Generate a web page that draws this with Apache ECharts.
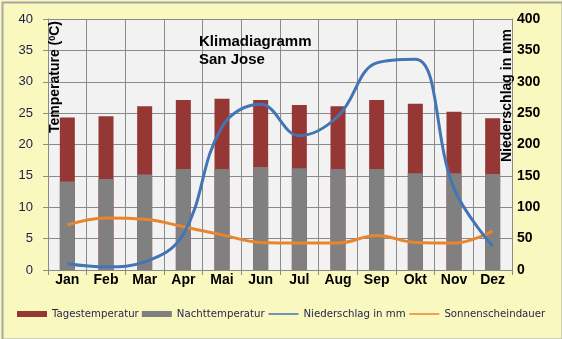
<!DOCTYPE html>
<html>
<head>
<meta charset="utf-8">
<script src="https://cdn.jsdelivr.net/npm/echarts@6/dist/echarts.min.js"></script>
<style>
html,body{margin:0;padding:0;background:#f9f8be;}
#chart{width:562px;height:339px;}
</style>
</head>
<body>
<div id="chart"></div>
<script>
const months = ['Jan','Feb','Mar','Apr','Mai','Jun','Jul','Aug','Sep','Okt','Nov','Dez'];
const tagestemperatur = [24.3, 24.5, 26.1, 27.1, 27.3, 27.1, 26.3, 26.1, 27.1, 26.5, 25.2, 24.2];
const nachttemperatur = [14.1, 14.5, 15.2, 16.1, 16.1, 16.4, 16.2, 16.1, 16.1, 15.4, 15.4, 15.3];
const niederschlag = [10, 5, 13, 57, 228, 264, 214, 245, 330, 336, 130, 38];
const sonnenscheindauer = [7.2, 8.3, 8.1, 6.9, 5.6, 4.4, 4.3, 4.3, 5.5, 4.4, 4.3, 6.2];
const leftTicks = {min: 0, max: 40, interval: 5};
const rightTicks = {min: 0, max: 400, interval: 50};

const chart = echarts.init(document.getElementById('chart'), null, {renderer: 'canvas'});
const gridColor = '#8a8a8a';
const hiddenSymbol = {color: 'rgba(0,0,0,0)', borderWidth: 0, opacity: 0};
chart.setOption({
  backgroundColor: '#f9f8be',
  animation: false,
  title: {
    text: 'Klimadiagramm\nSan Jose',
    left: 194, top: 28,
    textStyle: {fontFamily: 'Liberation Sans', fontWeight: 'bold', fontSize: 15, color: '#000', lineHeight: 18}
  },
  grid: {left: 48, right: 50, top: 19, bottom: 69, show: true, backgroundColor: '#f2f2f2', borderWidth: 0},
  legend: {
    left: 17, top: 309, padding: 0, width: 545, itemGap: 3, itemWidth: 30, itemHeight: 6,
    data: [
      {name: 'Tagestemperatur', icon: 'rect'},
      {name: 'Nachttemperatur', icon: 'rect'},
      {name: 'Niederschlag in mm', itemStyle: hiddenSymbol, lineStyle: {width: 1.5}},
      {name: 'Sonnenscheindauer', itemStyle: hiddenSymbol, lineStyle: {width: 1.5}}
    ],
    textStyle: {fontFamily: 'DejaVu Sans', fontSize: 10.2, color: '#26264e'}
  },
  xAxis: {
    type: 'category', data: months, boundaryGap: true,
    axisLine: {lineStyle: {color: gridColor}},
    axisTick: {show: true, length: 5, lineStyle: {color: gridColor}},
    splitLine: {show: true, lineStyle: {color: gridColor}},
    axisLabel: {fontFamily: 'Liberation Sans', fontWeight: 'bold', fontSize: 14, color: '#000', margin: 3}
  },
  yAxis: [
    {
      type: 'value', min: leftTicks.min, max: leftTicks.max, interval: leftTicks.interval,
      axisLine: {show: true, lineStyle: {color: gridColor}},
      axisTick: {show: true, length: 5, lineStyle: {color: gridColor}},
      splitLine: {show: true, lineStyle: {color: gridColor}},
      axisLabel: {fontFamily: 'Liberation Sans', fontSize: 13, color: '#1e1e46', margin: 15}
    },
    {
      type: 'value', min: rightTicks.min, max: rightTicks.max, interval: rightTicks.interval,
      axisLine: {show: true, lineStyle: {color: gridColor}},
      axisTick: {show: false},
      splitLine: {show: false},
      axisLabel: {fontFamily: 'Liberation Sans', fontWeight: 'bold', fontSize: 14, color: '#000', margin: 5}
    }
  ],
  graphic: [
    {type: 'rect', left: 0, top: 0, z: 100, silent: true,
     shape: {x: 0.5, y: 0.5, width: 560, height: 337},
     style: {fill: 'none', stroke: '#a6a6a6', lineWidth: 2}},
    {type: 'text', x: 48, y: 21, rotation: Math.PI / 2, z: 100,
     style: {text: 'Temperature ({s|0}C)', textAlign: 'right', textVerticalAlign: 'top',
             font: 'bold 14px "Liberation Sans"', fill: '#000',
             rich: {s: {fontFamily: 'Liberation Sans', fontWeight: 'bold', fontSize: 9, verticalAlign: 'top', fill: '#000'}}}},
    {type: 'text', x: 514, y: 29, rotation: Math.PI / 2, z: 100,
     style: {text: 'Niederschlag in mm', textAlign: 'right', textVerticalAlign: 'bottom',
             font: 'bold 14px "Liberation Sans"', fill: '#000'}}
  ],
  series: [
    {name: 'Tagestemperatur', type: 'bar', data: tagestemperatur, barWidth: 15,
     itemStyle: {color: '#953735'}, yAxisIndex: 0},
    {name: 'Nachttemperatur', type: 'bar', data: nachttemperatur, barWidth: 15, barGap: '-100%',
     itemStyle: {color: '#808080'}, yAxisIndex: 0},
    {name: 'Sonnenscheindauer', type: 'line', data: sonnenscheindauer, smooth: 0.4, symbol: 'none',
     lineStyle: {color: '#e8852e', width: 3}, itemStyle: {color: '#e8852e'}, yAxisIndex: 0},
    {name: 'Niederschlag in mm', type: 'line', data: niederschlag, smooth: 0.4, symbol: 'none',
     lineStyle: {color: '#4375b5', width: 3}, itemStyle: {color: '#4375b5'}, yAxisIndex: 1}
  ]
});
</script>
</body>
</html>
